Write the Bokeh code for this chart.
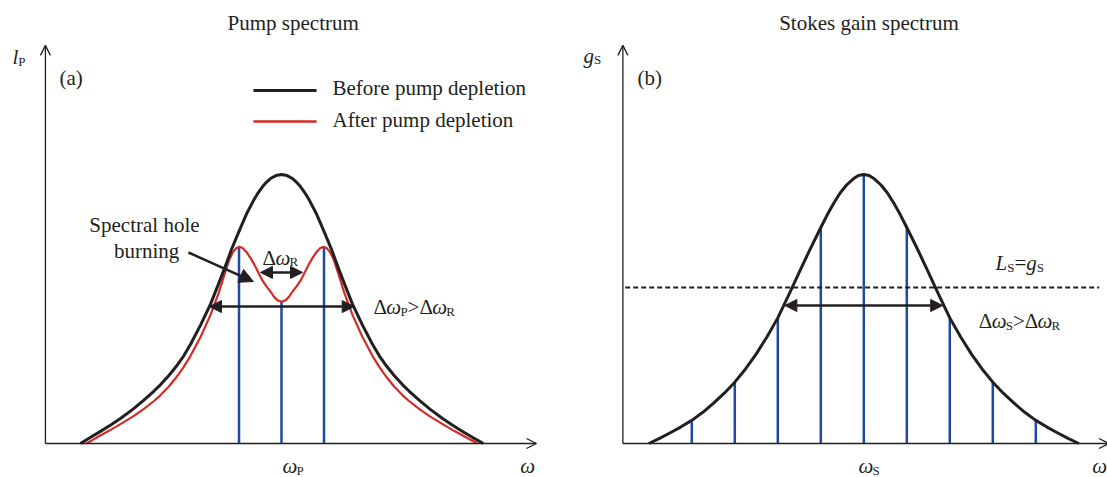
from bokeh.plotting import figure
from bokeh.models import Arrow, NormalHead, OpenHead, Range1d
from bokeh.layouts import row
from bokeh.core.properties import value
from bokeh.embed import file_html
from bokeh.resources import INLINE

# ---------------- data ----------------
# (a) pump spectrum: frequency offset from omega_P (arb. units) and intensity (normalised)
pump_omega_before = [-0.946, -0.9, -0.852, -0.8, -0.758, -0.7, -0.649, -0.6, -0.569, -0.53, -0.494, -0.46,
                     -0.428, -0.381, -0.334, -0.3, -0.268, -0.235, -0.198, -0.165, -0.132, -0.11, -0.089,
                     -0.07, -0.052, -0.026, 0.0, 0.026, 0.052, 0.07, 0.089, 0.11, 0.132, 0.165, 0.198,
                     0.235, 0.268, 0.3, 0.334, 0.381, 0.428, 0.46, 0.494, 0.53, 0.569, 0.6, 0.649, 0.7,
                     0.758, 0.8, 0.852, 0.9, 0.950]
pump_before = [0.0, 0.022, 0.045, 0.071, 0.093, 0.127, 0.160, 0.195, 0.219, 0.253, 0.288, 0.326,
               0.369, 0.440, 0.518, 0.586, 0.651, 0.722, 0.792, 0.853, 0.903, 0.932, 0.955,
               0.972, 0.985, 0.996, 1.0, 0.996, 0.985, 0.972, 0.955, 0.932, 0.903, 0.853, 0.792,
               0.722, 0.651, 0.586, 0.518, 0.440, 0.369, 0.326, 0.288, 0.253, 0.219, 0.195, 0.160, 0.127,
               0.093, 0.071, 0.045, 0.022, 0.0]

pump_omega_after = [-0.918, -0.87, -0.81, -0.758, -0.7, -0.649, -0.6, -0.569, -0.53, -0.494, -0.46, -0.428,
                    -0.381, -0.334, -0.296, -0.264, -0.245, -0.228, -0.213, -0.198, -0.183, -0.165, -0.146,
                    -0.127, -0.108, -0.09, -0.071, -0.052, -0.035, -0.018, 0.0, 0.018, 0.035, 0.052, 0.071,
                    0.09, 0.108, 0.127, 0.146, 0.165, 0.183, 0.198, 0.213, 0.228, 0.245, 0.264, 0.296,
                    0.334, 0.381, 0.428, 0.46, 0.494, 0.53, 0.569, 0.6, 0.649, 0.7, 0.758, 0.81, 0.87, 0.922]
pump_after = [0.0, 0.022, 0.048, 0.072, 0.100, 0.128, 0.158, 0.180, 0.212, 0.247, 0.285, 0.326,
              0.396, 0.478, 0.559, 0.640, 0.685, 0.712, 0.726, 0.731, 0.727, 0.712, 0.690,
              0.664, 0.634, 0.606, 0.584, 0.565, 0.545, 0.532, 0.527, 0.532, 0.545, 0.565, 0.584,
              0.606, 0.634, 0.664, 0.690, 0.712, 0.727, 0.731, 0.726, 0.712, 0.685, 0.640, 0.559,
              0.478, 0.396, 0.326, 0.285, 0.247, 0.212, 0.180, 0.158, 0.128, 0.100, 0.072, 0.048, 0.022, 0.0]

pump_lines_omega = [-0.2, 0.0, 0.2]
pump_lines_top = [0.731, 0.527, 0.731]

pump_hole_width = [-0.099, 0.099]     # delta omega_R
pump_hole_level = 0.636
pump_width = [-0.339, 0.342]          # delta omega_P
pump_width_level = 0.509

# (b) Stokes gain spectrum
stokes_omega = [-1.0, -0.95, -0.9, -0.85, -0.8, -0.75, -0.7, -0.65, -0.6, -0.55, -0.5, -0.45, -0.4,
                -0.35, -0.3, -0.25, -0.2, -0.17, -0.14, -0.11, -0.08, -0.05, -0.025, 0.0,
                0.025, 0.05, 0.08, 0.11, 0.14, 0.17, 0.2, 0.25, 0.3, 0.35, 0.4, 0.45, 0.5,
                0.55, 0.6, 0.65, 0.7, 0.75, 0.8, 0.85, 0.9, 0.95, 1.0]
stokes_gain = [0.0, 0.019, 0.040, 0.062, 0.086, 0.115, 0.149, 0.186, 0.228, 0.277, 0.333, 0.397, 0.467,
               0.551, 0.637, 0.722, 0.803, 0.850, 0.893, 0.931, 0.961, 0.983, 0.996, 1.0,
               0.996, 0.983, 0.961, 0.931, 0.893, 0.850, 0.803, 0.722, 0.637, 0.551, 0.467, 0.397, 0.333,
               0.277, 0.228, 0.186, 0.149, 0.115, 0.086, 0.062, 0.040, 0.019, 0.0]

stokes_lines_omega = [-0.8, -0.6, -0.4, -0.2, 0.0, 0.2, 0.4, 0.6, 0.8]
stokes_lines_top = [0.086, 0.228, 0.467, 0.803, 1.0, 0.803, 0.467, 0.228, 0.086]

loss_level = 0.58                      # L_S = g_S
stokes_width = [-0.367, 0.367]         # delta omega_S
stokes_width_level = 0.513

titles = ["Pump spectrum", "Stokes gain spectrum"]
legend_labels = ["Before pump depletion", "After pump depletion"]

# ---------------- style ----------------
INK = "#231f20"
RED = "#d42b26"
BLUE = "#1f4a9e"
FONT = value("Liberation Serif")
FS = 21
SUB = 13
Y_RANGE = (-0.1264, 1.6468)

EM_N = {"Δ": 0.612, ">": 0.564, "=": 0.564, "P": 0.556, "R": 0.667, "S": 0.556,
        "(": 0.333, ")": 0.333, "a": 0.444, "b": 0.5}
EM_I = {"ω": 0.667, "l": 0.278, "g": 0.5, "L": 0.556}


def run_width(t, italic, size):
    table = EM_I if italic else EM_N
    return sum(table.get(c, 0.5) for c in t) * size


def rich(p, x, y, runs, align="left"):
    """runs: list of (text, italic, subscript)"""
    widths = [run_width(t, it, SUB if sb else FS) for t, it, sb in runs]
    total = sum(widths)
    off = -total / 2 if align == "center" else 0.0
    for (t, it, sb), w in zip(runs, widths):
        p.text(x=[x], y=[y], text=[t], x_offset=off, y_offset=4 if sb else 0,
               text_font=FONT, text_font_size=f"{SUB if sb else FS}px",
               text_font_style="italic" if it else "normal",
               text_align="left", text_baseline="alphabetic", text_color=INK)
        off += w


def plain(p, x, y, t, align="left", baseline="middle"):
    p.text(x=[x], y=[y], text=[t], text_font=FONT, text_font_size=f"{FS}px",
           text_align=align, text_baseline=baseline, text_color=INK)


def make_fig(width, xr):
    p = figure(width=width, height=477, x_range=Range1d(*xr), y_range=Range1d(*Y_RANGE),
               output_backend="svg", toolbar_location=None, min_border=0,
               x_axis_location=None, y_axis_location=None)
    p.grid.visible = False
    p.outline_line_color = None
    p.background_fill_color = "white"
    p.border_fill_color = "white"
    return p


def axis_arrows(p, x0, x1, y1):
    p.add_layout(Arrow(x_start=x0, y_start=0, x_end=x0, y_end=y1, line_color=INK, line_width=1.3,
                       end=OpenHead(size=10, line_color=INK, line_width=1.3)))
    p.add_layout(Arrow(x_start=x0, y_start=0, x_end=x1, y_end=0, line_color=INK, line_width=1.3,
                       end=OpenHead(size=10, line_color=INK, line_width=1.3)))


def dbl_arrow(p, xs, y):
    p.add_layout(Arrow(x_start=xs[0], y_start=y, x_end=xs[1], y_end=y, line_color=INK, line_width=2.5,
                       start=NormalHead(size=12, fill_color=INK, line_color=INK, line_width=1),
                       end=NormalHead(size=12, fill_color=INK, line_color=INK, line_width=1)))


# ---------------- (a) pump spectrum ----------------
pL = make_fig(558, (-1.3224, 1.3035))
axis_arrows(pL, -1.111, 1.2, 1.48)

pL.segment(x0=pump_lines_omega, y0=[0] * len(pump_lines_omega), x1=pump_lines_omega, y1=pump_lines_top,
           line_color=BLUE, line_width=2.5)
pL.line(pump_omega_after, pump_after, line_color=RED, line_width=2.2, line_join="round")
pL.line(pump_omega_before, pump_before, line_color=INK, line_width=3, line_join="round")

dbl_arrow(pL, pump_hole_width, pump_hole_level)
dbl_arrow(pL, pump_width, pump_width_level)
pL.add_layout(Arrow(x_start=-0.438, y_start=0.710, x_end=-0.132, y_end=0.602, line_color=INK, line_width=2.5,
                    end=NormalHead(size=14, fill_color=INK, line_color=INK, line_width=1)))

# legend
pL.line([-0.132, 0.165], [1.312, 1.312], line_color=INK, line_width=3)
pL.line([-0.132, 0.165], [1.197, 1.197], line_color=RED, line_width=2.5)
plain(pL, 0.240, 1.322, legend_labels[0])
plain(pL, 0.240, 1.202, legend_labels[1])

plain(pL, 0.055, 1.565, titles[0], align="center")
plain(pL, -1.045, 1.357, "(a)", baseline="alphabetic")
rich(pL, -1.266, 1.435, [("l", True, False), ("P", False, True)])
plain(pL, -0.645, 0.814, "Spectral hole", align="center")
plain(pL, -0.635, 0.717, "burning", align="center")
rich(pL, -0.089, 0.691, [("Δ", False, False), ("ω", True, False), ("R", False, True)])
rich(pL, 0.433, 0.506, [("Δ", False, False), ("ω", True, False), ("P", False, True),
                        (">", False, False), ("Δ", False, False), ("ω", True, False), ("R", False, True)])
rich(pL, 0.005, -0.084, [("ω", True, False), ("P", False, True)])
rich(pL, 1.124, -0.084, [("ω", True, False)])

# ---------------- (b) Stokes gain spectrum ----------------
pR = make_fig(549, (-1.42, 1.1335))
axis_arrows(pR, -1.1205, 1.14, 1.48)

pR.segment(x0=stokes_lines_omega, y0=[0] * len(stokes_lines_omega), x1=stokes_lines_omega, y1=stokes_lines_top,
           line_color=BLUE, line_width=2.5)
pR.line(stokes_omega, stokes_gain, line_color=INK, line_width=3, line_join="round")
pR.line([-1.11, 1.095], [loss_level, loss_level], line_color=INK, line_width=2, line_dash="5 3")
dbl_arrow(pR, stokes_width, stokes_width_level)

plain(pR, 0.024, 1.565, titles[1], align="center")
plain(pR, -1.053, 1.357, "(b)", baseline="alphabetic")
rich(pR, -1.304, 1.442, [("g", True, False), ("S", False, True)])
rich(pR, 0.6126, 0.670, [("L", True, False), ("S", False, True), ("=", False, False),
                         ("g", True, False), ("S", False, True)])
rich(pR, 0.535, 0.455, [("Δ", False, False), ("ω", True, False), ("S", False, True),
                        (">", False, False), ("Δ", False, False), ("ω", True, False), ("R", False, True)])
rich(pR, -0.025, -0.084, [("ω", True, False), ("S", False, True)])
rich(pR, 1.062, -0.084, [("ω", True, False)])

layout = row(pL, pR, spacing=0)
open("out.html", "w").write(file_html(layout, INLINE))
